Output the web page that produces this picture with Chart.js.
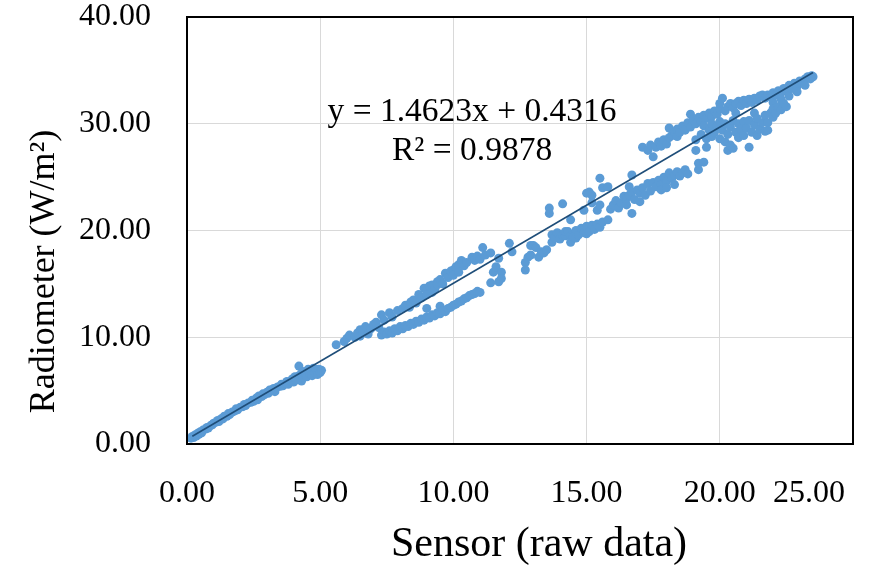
<!DOCTYPE html>
<html lang="en">
  <head>
    <meta charset="UTF-8">
    <title>Sensor vs Radiometer</title>
    <script src="https://cdn.jsdelivr.net/npm/chart.js"></script>
    <style>
      html, body {
        margin: 0;
        padding: 0;
        background: #fff
      }

      .chart-box {
        width: 883px;
        height: 565px;
        position: relative
      }
    </style>
  </head>
  <body>
    <div class="chart-box">
      <canvas id="scatter-chart"></canvas>
    </div>
    <script>
      // readings, [sensor raw, radiometer W/m2]
      const lowBand = [
        [0.15, 0.55], [0.2, 0.7], [0.25, 0.6], [0.3, 0.85], [0.35, 0.75], [0.4, 1.0], [0.45, 0.9], [0.5, 1.15],
        [0.55, 1.05], [0.6, 1.3], [0.7, 1.4], [0.75, 1.55], [0.8, 1.5], [0.9, 1.75], [0.95, 1.8], [1.0, 1.95],
        [1.1, 2.05], [1.15, 2.2], [1.2, 2.1], [1.3, 2.4], [1.35, 2.35], [1.4, 2.6], [1.5, 2.6], [1.55, 2.85],
        [1.6, 2.75], [1.7, 3.0], [1.8, 3.1], [1.85, 3.3], [1.9, 3.2], [2.0, 3.45], [2.1, 3.5], [2.15, 3.7],
        [2.2, 3.6], [2.3, 3.85], [2.4, 3.9], [2.45, 4.1], [2.5, 4.0], [2.6, 4.3], [2.65, 4.15], [2.7, 4.5],
        [2.8, 4.45], [2.85, 4.7], [2.9, 4.6], [3.0, 4.85], [3.05, 4.75], [3.1, 5.05], [3.2, 5.0], [3.25, 5.2],
        [3.3, 5.1], [3.3, 4.9], [3.4, 5.35], [3.5, 5.4], [3.55, 5.6], [3.6, 5.45], [3.7, 5.7], [3.75, 5.85],
        [3.8, 5.6], [3.9, 5.9], [3.95, 6.1], [4.0, 5.8], [4.05, 6.3], [4.1, 6.0], [4.2, 6.4], [4.2, 7.3],
        [4.25, 6.15], [4.3, 6.6], [4.3, 5.9], [4.35, 6.3], [4.4, 6.8], [4.45, 6.5], [4.5, 6.3], [4.55, 7.0],
        [4.6, 6.6], [4.65, 6.9], [4.7, 6.4], [4.75, 7.1], [4.8, 6.7], [4.85, 6.95], [4.9, 6.5], [4.95, 7.0],
        [5.0, 6.7], [5.05, 6.9]
      ];
      const midUpper = [
        [5.6, 9.3], [5.9, 9.6], [6.0, 9.9], [6.1, 10.2], [6.3, 10.0], [6.4, 10.4], [6.5, 10.7], [6.5, 10.1],
        [6.6, 10.5], [6.7, 11.0], [6.8, 10.3], [6.9, 10.8], [7.0, 11.2], [7.1, 11.4], [7.2, 10.9], [7.3, 12.1],
        [7.4, 11.6], [7.6, 12.3], [7.7, 11.9], [7.9, 12.5], [8.1, 12.7], [8.2, 13.0], [8.35, 12.8], [8.4, 13.3],
        [8.5, 13.5], [8.6, 13.2], [8.7, 14.0], [8.8, 13.7], [8.9, 14.6], [9.0, 14.4], [9.0, 14.0], [9.1, 14.8],
        [9.2, 14.2], [9.2, 14.9], [9.3, 14.5], [9.4, 15.2], [9.4, 14.9], [9.5, 15.4], [9.6, 15.0], [9.7, 16.0],
        [9.8, 15.6], [9.9, 16.2], [10.0, 16.3], [10.0, 15.8], [10.1, 16.6], [10.2, 16.8], [10.2, 16.1], [10.3, 17.2],
        [10.4, 16.7], [10.5, 17.0], [10.7, 17.5], [10.8, 17.2], [10.9, 17.6], [11.0, 17.3], [11.1, 18.4], [11.2, 17.7],
        [11.4, 17.9], [9.0, 12.7], [9.5, 12.9]
      ];
      const midLower = [
        [7.3, 10.2], [7.4, 10.5], [7.5, 10.3], [7.6, 10.6], [7.7, 10.4], [7.8, 10.8], [7.9, 10.6], [8.0, 11.0],
        [8.1, 10.8], [8.2, 11.1], [8.3, 11.0], [8.4, 11.3], [8.5, 11.2], [8.6, 11.5], [8.7, 11.4], [8.8, 11.7],
        [8.9, 11.6], [9.0, 11.9], [9.1, 11.8], [9.2, 12.1], [9.3, 12.0], [9.4, 12.3], [9.5, 12.2], [9.6, 12.5],
        [9.7, 12.4], [9.8, 12.7], [9.9, 12.8], [10.0, 13.0], [10.1, 13.1], [10.2, 13.3], [10.3, 13.4], [10.4, 13.6],
        [10.5, 13.7], [10.6, 13.9], [10.7, 14.0], [10.8, 14.1], [10.9, 14.3], [11.0, 14.2]
      ];
      const centerGroup = [
        [11.4, 15.1], [11.5, 16.1], [11.6, 16.6], [11.7, 15.2], [11.7, 17.4], [11.8, 16.1], [11.8, 15.5], [12.1, 18.8],
        [12.2, 18.0], [12.7, 17.0], [12.7, 16.3], [12.8, 17.5], [12.9, 17.7], [12.9, 18.6], [13.0, 18.6], [13.1, 18.4],
        [13.2, 17.5], [13.3, 18.0], [13.4, 17.9], [13.5, 18.2], [13.6, 22.1], [13.6, 21.6], [14.1, 22.5], [13.7, 19.6],
        [13.7, 18.9], [13.8, 19.3], [13.9, 19.8], [14.0, 19.2], [14.1, 19.6], [14.2, 19.5], [14.2, 19.9], [14.3, 19.9],
        [14.4, 18.9], [14.4, 19.5], [14.5, 19.4], [14.6, 20.0], [14.6, 19.3], [14.7, 19.6], [14.8, 20.2], [14.9, 19.8],
        [15.0, 20.4], [15.0, 19.7], [15.1, 19.9], [15.2, 20.5], [15.3, 20.1], [15.4, 20.6], [15.5, 20.3], [14.4, 21.0],
        [14.9, 21.9], [15.1, 23.6], [15.2, 23.3], [15.5, 24.9]
      ];
      const lowerArm = [
        [15.0, 23.5], [15.2, 22.6], [15.4, 21.9], [15.5, 22.4], [15.6, 24.0], [15.6, 20.8], [15.8, 24.1], [15.8, 21.0],
        [15.9, 22.0], [16.0, 22.4], [16.1, 22.8], [16.2, 22.1], [16.3, 22.6], [16.4, 23.2], [16.5, 23.0], [16.5, 22.4],
        [16.6, 23.3], [16.6, 24.1], [16.7, 21.6], [16.7, 23.6], [16.7, 25.2], [16.8, 22.9], [16.9, 23.8], [17.0, 23.5],
        [17.0, 22.7], [17.1, 24.0], [17.2, 23.3], [17.3, 24.4], [17.4, 23.7], [17.5, 24.5], [17.6, 24.1], [17.7, 24.7],
        [17.8, 24.3], [17.8, 23.8], [17.9, 25.0], [18.0, 24.6], [18.0, 24.0], [18.1, 25.4], [18.2, 24.9], [18.3, 25.2],
        [18.3, 24.3], [18.4, 25.5], [18.5, 25.1], [18.6, 25.4], [18.7, 25.7], [18.8, 25.3], [19.2, 25.7], [19.2, 26.3],
        [19.4, 26.4]
      ];
      const upperArm = [
        [17.1, 27.8], [17.3, 27.5], [17.5, 26.9], [17.4, 28.0], [17.6, 27.8], [17.7, 28.3], [17.8, 27.9], [17.9, 28.5],
        [18.0, 28.1], [18.1, 28.7], [18.1, 29.6], [18.2, 28.9], [18.3, 29.2], [18.4, 28.8], [18.4, 29.5], [18.5, 29.2],
        [18.6, 29.8], [18.7, 29.4], [18.8, 30.1], [18.9, 29.7], [18.9, 30.9], [19.0, 30.4], [19.1, 30.0], [19.2, 30.6],
        [19.3, 30.2], [19.4, 30.8], [19.5, 30.5], [19.6, 31.0], [19.7, 30.7], [19.8, 31.2], [19.9, 30.9], [20.0, 31.4],
        [20.0, 31.9], [20.1, 32.4], [20.2, 31.2], [20.3, 31.6], [20.4, 31.9], [20.5, 31.5], [20.6, 31.9], [20.7, 32.1],
        [20.8, 31.7], [20.9, 32.2], [21.0, 31.9], [21.1, 32.3], [21.2, 32.0], [21.3, 32.4], [21.4, 32.2], [21.5, 32.6],
        [21.6, 32.7], [21.7, 32.4], [21.8, 32.7], [21.9, 32.5], [22.0, 32.9], [22.0, 32.0], [22.1, 32.7], [22.2, 33.1],
        [22.3, 32.9], [22.3, 32.3], [22.4, 33.3], [22.5, 33.1], [22.6, 33.6], [22.6, 32.6], [22.7, 33.3], [22.8, 33.8],
        [22.9, 33.5], [22.9, 33.0], [23.0, 34.0], [23.1, 33.8], [23.2, 34.2], [23.2, 33.6], [23.3, 34.4], [23.4, 34.2],
        [23.45, 34.5], [23.5, 34.4]
      ];
      const lowerBlob = [
        [19.1, 28.5], [19.1, 27.5], [19.3, 29.0], [19.4, 29.8], [19.5, 28.6], [19.5, 27.8], [19.6, 29.4], [19.7, 30.0],
        [19.7, 28.8], [19.8, 29.2], [19.9, 29.8], [20.0, 28.6], [20.0, 30.2], [20.1, 29.4], [20.2, 28.3], [20.2, 30.0],
        [20.3, 29.0], [20.3, 27.5], [20.4, 29.7], [20.4, 28.0], [20.5, 30.3], [20.5, 27.7], [20.6, 29.2], [20.6, 31.0],
        [20.7, 30.0], [20.7, 28.7], [20.8, 29.5], [20.9, 30.2], [20.9, 28.9], [21.0, 29.6], [21.1, 30.3], [21.1, 27.8],
        [21.2, 29.2], [21.3, 29.9], [21.3, 31.0], [21.4, 28.9], [21.4, 30.5], [21.5, 29.5], [21.6, 30.1], [21.7, 30.8],
        [21.7, 29.3], [21.8, 30.1], [21.8, 29.4], [21.9, 31.0], [22.0, 30.6], [22.0, 31.4], [22.1, 31.0], [22.2, 31.6],
        [22.3, 31.3], [22.4, 31.9], [22.5, 31.6]
      ];

      // linear trend as printed on the chart
      const trendSlope = 1.4623;
      const trendIntercept = 0.4316;
      const trendRange = [0.2, 23.5];
      const trendLabels = ['y = 1.4623x + 0.4316', 'R\u00b2 = 0.9878'];

      const xTicks = [0, 5, 10, 15, 20, 25];
      const yTicks = [0, 10, 20, 30, 40];
      const xTitle = 'Sensor (raw data)';
      const yTitle = 'Radiometer (W/m\u00b2)';

      const allPoints = [].concat(lowBand, midUpper, midLower, centerGroup, lowerArm, upperArm, lowerBlob)
        .map(p => ({ x: p[0], y: p[1] }));
      const trendPoints = trendRange.map(x => ({ x: x, y: trendSlope * x + trendIntercept }));

      const serif = "'Liberation Serif', 'Times New Roman', serif";
      const fmt = v => Number(v).toFixed(2);

      const framePlugin = {
        id: 'frame',
        afterDraw(chart) {
          const a = chart.chartArea;
          const c = chart.ctx;
          c.save();
          c.strokeStyle = '#000';
          c.lineWidth = 2;
          c.strokeRect(a.left, a.top, a.right - a.left, a.bottom - a.top);
          c.restore();
        }
      };

      // equation, axis titles and the last x label (excel pulls it inside the frame)
      const textPlugin = {
        id: 'texts',
        afterDraw(chart) {
          const c = chart.ctx;
          const a = chart.chartArea;
          const xs = chart.scales.x, ys = chart.scales.y;
          c.save();
          c.fillStyle = '#000';
          c.textAlign = 'center';
          c.textBaseline = 'middle';
          c.font = '33.5px ' + serif;
          c.fillText(trendLabels[0], xs.getPixelForValue(10.7), ys.getPixelForValue(31.1));
          c.fillText(trendLabels[1], xs.getPixelForValue(10.7), ys.getPixelForValue(27.4));

          c.font = '32px ' + serif;
          c.textAlign = 'right';
          c.fillText(fmt(xTicks[xTicks.length - 1]), xs.getPixelForValue(25) - 8, a.bottom + 50);

          c.font = '42px ' + serif;
          c.textAlign = 'center';
          c.textBaseline = 'alphabetic';
          c.fillText(xTitle, (a.left + a.right) / 2 + 19, 556);

          c.translate(54, (a.top + a.bottom) / 2 + 41);
          c.rotate(-Math.PI / 2);
          c.font = '36px ' + serif;
          c.fillText(yTitle, 0, 0);
          c.restore();
        }
      };

      new Chart(document.getElementById('scatter-chart'), {
        type: 'scatter',
        data: {
          datasets: [{
            type: 'line',
            data: trendPoints,
            borderColor: '#1f4e79',
            borderWidth: 1.6,
            pointRadius: 0,
            fill: false
          }, {
            data: allPoints,
            backgroundColor: '#5b9bd5',
            borderWidth: 0,
            pointRadius: 4.5
          }]
        },
        options: {
          responsive: true,
          maintainAspectRatio: false,
          animation: false,
          layout: {
            padding: { top: 17, right: 30, left: 8, bottom: 0 }
          },
          plugins: {
            legend: { display: false },
            tooltip: { enabled: false }
          },
          scales: {
            x: {
              type: 'linear',
              min: 0,
              max: 25,
              afterBuildTicks: s => { s.ticks = xTicks.map(v => ({ value: v })); },
              afterFit: s => { s.height = 121; s.paddingLeft = 0; s.paddingRight = 0; },
              ticks: {
                color: '#000',
                font: { family: serif, size: 32 },
                padding: 30,
                maxRotation: 0,
                callback: v => (v === 25 ? '' : fmt(v))
              },
              grid: { color: '#d9d9d9', drawTicks: false },
              border: { display: false }
            },
            y: {
              type: 'linear',
              min: 0,
              max: 40,
              afterBuildTicks: s => { s.ticks = yTicks.map(v => ({ value: v })); },
              afterFit: s => { s.width = 179; s.paddingTop = 0; s.paddingBottom = 0; },
              ticks: {
                color: '#000',
                font: { family: serif, size: 32 },
                padding: 36,
                callback: fmt
              },
              grid: { color: '#d9d9d9', drawTicks: false },
              border: { display: false }
            }
          }
        },
        plugins: [framePlugin, textPlugin]
      });
    </script>
  </body>
</html>
